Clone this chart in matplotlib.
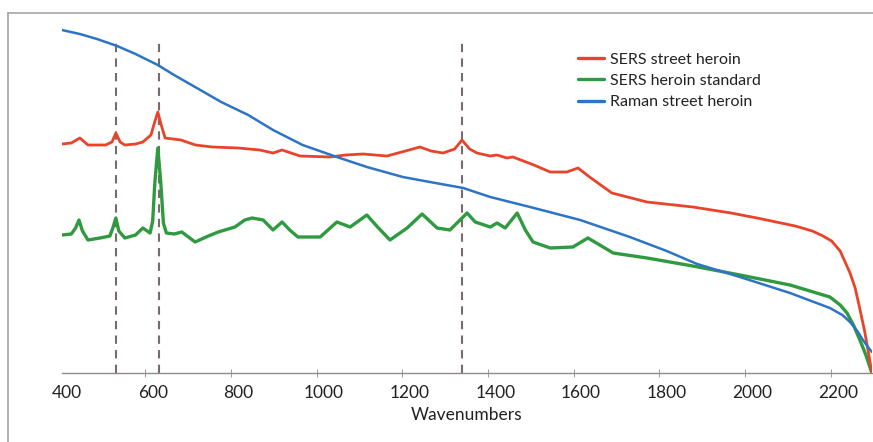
import matplotlib
matplotlib.use("Agg")
import matplotlib.pyplot as plt
from matplotlib.lines import Line2D

plt.rcParams['font.family'] = ['Lato', 'DejaVu Sans']

# ---- data (arbitrary intensity units) ----
red_x = [388, 410, 430, 449, 490, 505, 514, 524, 535, 560, 577, 596, 604, 612, 620, 629,
         666, 700, 739, 800, 850, 881, 902, 944, 1014, 1050, 1091, 1147, 1190, 1224, 1250,
         1278, 1305, 1322, 1340, 1357, 1388, 1404, 1427, 1441, 1490, 1528, 1567, 1593,
         1620, 1672, 1754, 1861, 1950, 2011, 2100, 2140, 2165, 2185, 2205, 2228, 2240,
         2251, 2262, 2272, 2279]
red_y = [229, 230, 235, 228, 228, 231, 240, 231, 228, 229, 231, 238, 250, 261, 248, 235,
         233, 228, 226, 225, 223, 220, 223, 217, 216, 218, 219, 217, 222, 226, 222,
         220, 224, 233, 224, 220, 217, 218, 215, 216, 208, 201, 201, 205,
         196, 180, 171, 166, 160, 155, 147, 142, 137, 132, 122, 100, 85,
         64, 42, 18, 0]

green_x = [388, 410, 420, 428, 436, 449, 477, 500, 507, 514, 521, 535, 560, 577, 594, 600,
           605, 612, 619, 625, 632, 650, 668, 699, 730, 753, 792, 815, 832, 858, 881, 902,
           920, 939, 991, 1030, 1061, 1100, 1125, 1154, 1194, 1229, 1264, 1294, 1334,
           1353, 1388, 1404, 1423, 1451, 1470, 1488, 1528, 1581, 1616, 1640, 1675, 1754,
           1861, 1971, 2088, 2181, 2205, 2221, 2236, 2251, 2265, 2279]
green_y = [138, 139, 145, 153, 142, 133, 135, 137, 145, 155, 142, 135, 138, 145, 140, 152,
           190, 225, 190, 150, 140, 139, 141, 131, 137, 141, 146, 153, 155, 153, 143, 151,
           143, 136, 136, 151, 146, 158, 146, 133, 145, 159, 145, 143, 160,
           151, 146, 150, 145, 160, 143, 131, 125, 126, 135, 129, 120, 115,
           107, 98, 88, 76, 68, 60, 48, 33, 18, 0]

blue_x = [388, 430, 470, 517, 560, 612, 650, 699, 760, 823, 881, 950, 1030, 1100, 1184,
          1260, 1325, 1388, 1481, 1598, 1714, 1800, 1871, 1971, 2088, 2181, 2210, 2228,
          2245, 2258, 2270, 2279]
blue_y = [343, 339, 334, 327, 319, 308, 298, 286, 271, 258, 243, 228, 216, 206, 196,
          190, 185, 176, 166, 153, 136, 122, 109, 96, 80, 65, 58, 51, 42, 33, 26, 21]

marker_lines = [514, 614, 1322]
tick_values = [400, 600, 800, 1000, 1200, 1400, 1600, 1800, 2000, 2200]
series_names = ["SERS street heroin", "SERS heroin standard", "Raman street heroin"]

# ---- figure ----
W, H = 873, 442
fig = plt.figure(figsize=(W / 100, H / 100), dpi=100)
fig.patch.set_facecolor("white")

# chart area border (left/top visible)
fig.add_artist(Line2D([8 / W, 8 / W], [0, 1 - 13 / H], color="#a6a6a6", lw=1.2,
                      transform=fig.transFigure))
fig.add_artist(Line2D([8 / W, 1], [1 - 13 / H, 1 - 13 / H], color="#a6a6a6", lw=1.2,
                      transform=fig.transFigure))

left, right, top, bottom = 62, 872, 20, 373
ax = fig.add_axes([left / W, (H - bottom) / H, (right - left) / W, (bottom - top) / H])
ax.set_xlim(388.3, 2279.3)
ax.set_ylim(0, bottom - top)

common = dict(solid_joinstyle="round", solid_capstyle="round")
ax.plot(red_x, red_y, color="#e8442a", lw=2.0, label=series_names[0], zorder=3, **common)
ax.plot(green_x, green_y, color="#2f9a3f", lw=2.4, label=series_names[1], zorder=2, **common)
ax.plot(blue_x, blue_y, color="#2d74c6", lw=1.8, label=series_names[2], zorder=4, **common)

for mx in marker_lines:
    ax.plot([mx, mx], [0, 333], color="#7a6a6a", lw=1.5, ls=(0, (4, 3)), zorder=1)

for s in ["top", "right", "left"]:
    ax.spines[s].set_visible(False)
ax.spines["bottom"].set_color("#8c8c8c")
ax.spines["bottom"].set_linewidth(1.0)
ax.set_yticks([])

ax.set_xticks(tick_values)
ax.set_xticklabels([str(v) for v in tick_values], fontsize=12.5, color="#222222")
ax.tick_params(axis="x", which="major", length=0, pad=9)
ax.set_xticks([v - 17 for v in tick_values[1:]], minor=True)
ax.tick_params(axis="x", which="minor", direction="inout", length=6, color="#8c8c8c")
ax.set_xlabel("Wavenumbers", fontsize=12.5, color="#222222", labelpad=4)

leg = ax.legend(loc="upper left", bbox_to_anchor=(572 / W, 1 - 46 / H),
                bbox_transform=fig.transFigure, frameon=False, fontsize=11.5,
                handlelength=1.6, handletextpad=0.35, labelspacing=0.45,
                borderaxespad=0)
for t in leg.get_texts():
    t.set_color("#222222")
for l in leg.get_lines():
    l.set_linewidth(2.4)

fig.savefig("out.png", dpi=100)
